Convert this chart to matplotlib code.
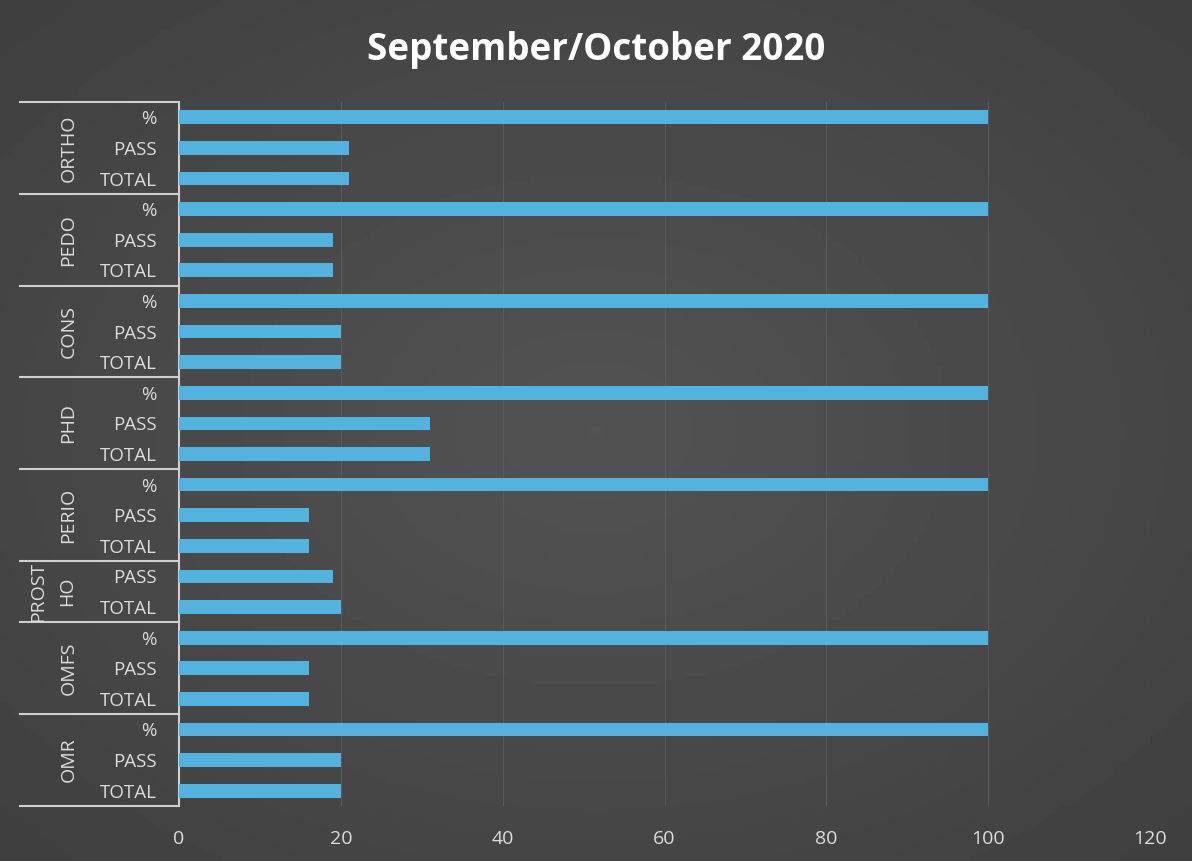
import matplotlib.pyplot as plt
import matplotlib.transforms as mtransforms
import numpy as np

plt.rcParams['font.family'] = ['Open Sans', 'DejaVu Sans']

# data (top to bottom)
groups = ['ORTHO', 'PEDO', 'CONS', 'PHD', 'PERIO', 'PROST\nHO', 'OMFS', 'OMR']
group_items = [
    ['%', 'PASS', 'TOTAL'],
    ['%', 'PASS', 'TOTAL'],
    ['%', 'PASS', 'TOTAL'],
    ['%', 'PASS', 'TOTAL'],
    ['%', 'PASS', 'TOTAL'],
    ['PASS', 'TOTAL'],
    ['%', 'PASS', 'TOTAL'],
    ['%', 'PASS', 'TOTAL'],
]
group_values = [
    [100, 21, 21],
    [100, 19, 19],
    [100, 20, 20],
    [100, 31, 31],
    [100, 16, 16],
    [19, 20],
    [100, 16, 16],
    [100, 20, 20],
]
xticks = [0, 20, 40, 60, 80, 100, 120]

labels = [l for items in group_items for l in items]
values = [v for vals in group_values for v in vals]
ypos = np.arange(len(values))

bg = '#474747'
txt = '#dcdcdc'
fig = plt.figure(figsize=(11.92, 8.61), dpi=100, facecolor=bg)

# soft lighter centre like the excel dark style
bgax = fig.add_axes([0, 0, 1, 1], zorder=-1)
yy, xx = np.mgrid[-1:1:200j, -1:1:200j]
r = np.sqrt(xx ** 2 + yy ** 2)
shade = 0.25 + 0.075 * np.clip(1 - r / 1.4, 0, 1)
bgax.imshow(shade, cmap='gray', vmin=0, vmax=1, aspect='auto',
            extent=[0, 1, 0, 1])
bgax.axis('off')

ax = fig.add_axes([0.1502, 0.0639, 0.8146, 0.8176])
ax.patch.set_alpha(0)

ax.barh(ypos, values, height=0.45, color='#52b4de', zorder=3)

ax.set_xlim(0, 120)
ax.set_ylim(len(values) - 0.5, -0.5)
ax.set_xticks(xticks)
ax.set_yticks(ypos)
ax.set_yticklabels(labels)
ax.tick_params(axis='y', length=0, pad=16, labelsize=13.5, labelcolor=txt)
ax.tick_params(axis='x', length=0, pad=17, labelsize=14, labelcolor=txt)
ax.grid(axis='x', color='#595959', linewidth=0.8, zorder=0)
for s in ['top', 'right', 'bottom']:
    ax.spines[s].set_visible(False)
ax.spines['left'].set_color('#cfcfcf')
ax.spines['left'].set_linewidth(1.5)

# multi-level category axis: separator lines and group names
trans = mtransforms.blended_transform_factory(ax.transAxes, ax.transData)
x_left = -0.164
start = -0.5
for name, items in zip(groups, group_items):
    ax.plot([x_left, 0], [start, start], transform=trans, color='#cfcfcf',
            linewidth=1.5, clip_on=False)
    mid = start + len(items) / 2
    gx = -0.114 if '\n' not in name else -0.130
    ax.text(gx, mid, name, transform=trans, rotation=90, ha='center', va='center',
            fontsize=14, color=txt, linespacing=1.75)
    start += len(items)
ax.plot([x_left, 0], [start, start], transform=trans, color='#cfcfcf',
        linewidth=1.5, clip_on=False)

fig.text(0.5, 0.942, 'September/October 2020', ha='center', va='center',
         fontsize=26.5, fontweight='bold', color='white')

fig.savefig('out.png', dpi=100, facecolor=bg)
